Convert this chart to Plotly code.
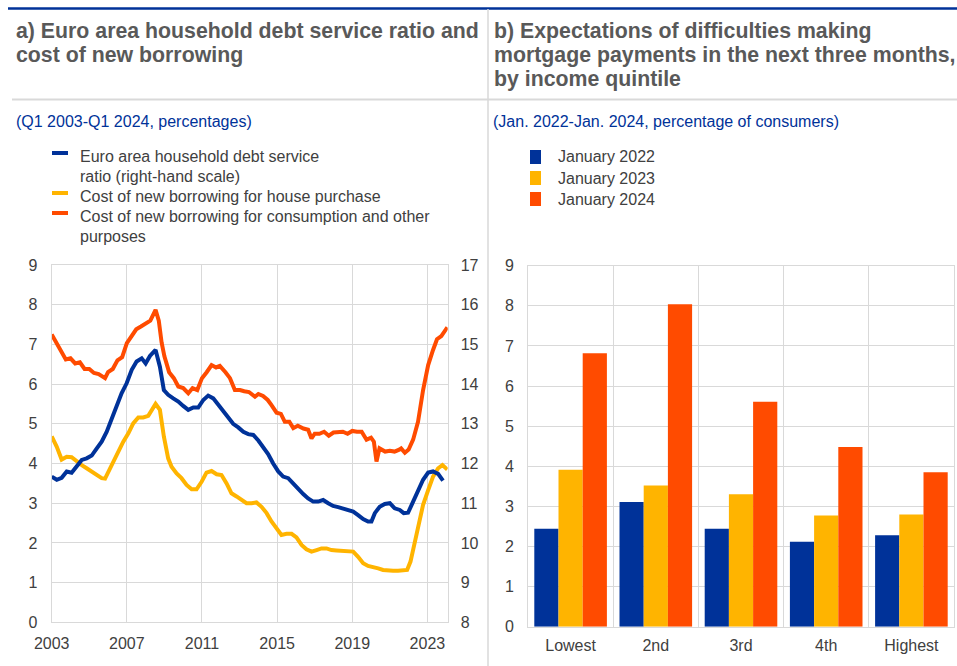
import plotly.graph_objects as go

# ---------------- data: panel a ----------------
dsr_years = [2003.0, 2003.27, 2003.53, 2003.8, 2004.06, 2004.33, 2004.6, 2004.86, 2005.13, 2005.4,
             2005.66, 2005.93, 2006.2, 2006.46, 2006.72, 2006.99, 2007.26, 2007.52, 2007.79, 2008.0,
             2008.23, 2008.53, 2008.76, 2008.97, 2009.2, 2009.47, 2009.74, 2010.0, 2010.27, 2010.54,
             2010.8, 2011.07, 2011.33, 2011.6, 2011.87, 2012.13, 2012.4, 2012.66, 2012.93, 2013.2,
             2013.46, 2013.73, 2014.0, 2014.26, 2014.52, 2014.79, 2015.06, 2015.32, 2015.59, 2015.85,
             2016.12, 2016.39, 2016.65, 2016.92, 2017.18, 2017.45, 2017.72, 2017.98, 2018.25, 2018.51,
             2018.78, 2019.05, 2019.31, 2019.58, 2019.84, 2020.02, 2020.2, 2020.46, 2020.73, 2021.0,
             2021.26, 2021.53, 2021.74, 2021.97, 2022.24, 2022.5, 2022.77, 2023.04, 2023.3, 2023.57,
             2023.83]
dsr_values = [11.67, 11.59, 11.64, 11.80, 11.77, 11.92, 12.09, 12.13, 12.20, 12.38,
              12.55, 12.80, 13.14, 13.47, 13.77, 14.02, 14.36, 14.57, 14.65, 14.52,
              14.71, 14.86, 14.44, 13.85, 13.73, 13.64, 13.56, 13.45, 13.35, 13.41,
              13.41, 13.60, 13.71, 13.64, 13.47, 13.31, 13.14, 13.00, 12.91, 12.80,
              12.74, 12.72, 12.58, 12.42, 12.24, 12.00, 11.80, 11.67, 11.63, 11.50,
              11.35, 11.23, 11.12, 11.04, 11.04, 11.08, 11.00, 10.93, 10.90, 10.87,
              10.83, 10.79, 10.70, 10.60, 10.54, 10.54, 10.75, 10.91, 10.98, 11.00,
              10.87, 10.83, 10.75, 10.76, 11.04, 11.33, 11.59, 11.77, 11.80, 11.74,
              11.57]

house_years = [2003.0, 2003.27, 2003.53, 2003.8, 2004.06, 2004.33, 2004.6, 2004.86, 2005.13, 2005.4,
               2005.66, 2005.84, 2006.02, 2006.28, 2006.55, 2006.81, 2007.08, 2007.34, 2007.61, 2007.87,
               2008.14, 2008.35, 2008.53, 2008.76, 2008.97, 2009.2, 2009.38, 2009.65, 2009.91, 2010.18,
               2010.45, 2010.71, 2010.98, 2011.24, 2011.51, 2011.78, 2012.04, 2012.31, 2012.57, 2012.84,
               2013.11, 2013.37, 2013.64, 2013.9, 2014.17, 2014.44, 2014.7, 2014.97, 2015.23, 2015.5,
               2015.77, 2016.03, 2016.3, 2016.56, 2016.83, 2017.1, 2017.36, 2017.63, 2017.89, 2018.16,
               2018.42, 2018.69, 2019.05, 2019.31, 2019.58, 2019.84, 2020.11, 2020.38, 2020.64, 2020.91,
               2021.17, 2021.44, 2021.71, 2021.92, 2022.1, 2022.33, 2022.56, 2022.77, 2023.04, 2023.3,
               2023.57, 2023.8, 2024.06]
house_values = [4.68, 4.42, 4.10, 4.17, 4.16, 4.05, 3.96, 3.88, 3.80, 3.71,
                3.63, 3.62, 3.80, 4.05, 4.34, 4.55, 4.76, 5.01, 5.16, 5.16,
                5.20, 5.35, 5.50, 5.35, 4.68, 4.13, 3.92, 3.75, 3.63, 3.46,
                3.35, 3.35, 3.54, 3.77, 3.81, 3.73, 3.71, 3.50, 3.25, 3.17,
                3.08, 3.00, 3.00, 3.02, 2.91, 2.75, 2.54, 2.37, 2.20, 2.23,
                2.23, 2.14, 1.95, 1.84, 1.78, 1.82, 1.86, 1.86, 1.82, 1.81,
                1.80, 1.78, 1.78, 1.65, 1.49, 1.42, 1.40, 1.36, 1.32, 1.30,
                1.30, 1.30, 1.30, 1.32, 1.53, 1.99, 2.49, 2.96, 3.33, 3.67,
                3.88, 3.96, 3.85]

cons_years = [2003.0, 2003.25, 2003.5, 2003.75, 2004.0, 2004.25, 2004.5, 2004.75, 2005.0, 2005.25,
              2005.5, 2005.84, 2006.0, 2006.25, 2006.5, 2006.75, 2007.0, 2007.25, 2007.5, 2007.75,
              2008.0, 2008.25, 2008.53, 2008.7, 2008.85, 2009.0, 2009.25, 2009.5, 2009.74, 2010.0,
              2010.27, 2010.5, 2010.75, 2011.0, 2011.25, 2011.51, 2011.75, 2011.95, 2012.25, 2012.49,
              2012.75, 2013.02, 2013.25, 2013.5, 2013.82, 2014.0, 2014.25, 2014.5, 2014.7, 2014.97,
              2015.2, 2015.41, 2015.65, 2015.86, 2016.1, 2016.4, 2016.65, 2016.83, 2017.0, 2017.25,
              2017.5, 2017.75, 2018.0, 2018.25, 2018.5, 2018.75, 2019.0, 2019.25, 2019.5, 2019.76,
              2020.0, 2020.15, 2020.29, 2020.45, 2020.75, 2021.0, 2021.25, 2021.5, 2021.6, 2021.8,
              2022.0, 2022.24, 2022.5, 2022.77, 2023.04, 2023.3, 2023.51, 2023.74, 2024.06]
cons_values = [7.25, 7.05, 6.85, 6.62, 6.65, 6.52, 6.55, 6.38, 6.38, 6.28,
               6.25, 6.15, 6.30, 6.38, 6.60, 6.68, 7.03, 7.20, 7.38, 7.45,
               7.52, 7.60, 7.87, 7.60, 7.05, 6.70, 6.30, 6.15, 5.94, 5.90,
               5.77, 5.90, 5.85, 6.15, 6.30, 6.48, 6.42, 6.46, 6.30, 6.15,
               5.85, 5.85, 5.82, 5.80, 5.68, 5.75, 5.70, 5.60, 5.47, 5.28,
               5.25, 5.05, 5.05, 4.89, 4.95, 4.88, 4.85, 4.63, 4.75, 4.75,
               4.80, 4.70, 4.78, 4.78, 4.80, 4.75, 4.82, 4.80, 4.80, 4.60,
               4.65, 4.55, 4.05, 4.38, 4.30, 4.32, 4.30, 4.35, 4.38, 4.27,
               4.35, 4.60, 5.05, 5.85, 6.48, 6.86, 7.13, 7.21, 7.43]

year_ticks = [2003, 2007, 2011, 2015, 2019, 2023]

# ---------------- data: panel b ----------------
quintiles = ["Lowest", "2nd", "3rd", "4th", "Highest"]
jan2022 = [2.44, 3.11, 2.44, 2.12, 2.28]
jan2023 = [3.91, 3.52, 3.30, 2.77, 2.80]
jan2024 = [6.82, 8.04, 5.61, 4.48, 3.85]

# ---------------- styling ----------------
W, H = 957, 666
BLUE = "#003299"
YELLOW = "#FFB400"
ORANGE = "#FF4B00"
GRID = "#d9d9d9"
TXT = "#404040"
FONT = "Liberation Sans, Arial, sans-serif"


def px(x):
    return x / W


def py(y):
    return 1 - y / H


fig = go.Figure()

fig.add_trace(go.Scatter(x=house_years, y=house_values, mode="lines",
                         line=dict(color=YELLOW, width=4), xaxis="x", yaxis="y",
                         showlegend=False))
fig.add_trace(go.Scatter(x=cons_years, y=cons_values, mode="lines",
                         line=dict(color=ORANGE, width=4), xaxis="x", yaxis="y",
                         showlegend=False))
fig.add_trace(go.Scatter(x=dsr_years, y=dsr_values, mode="lines",
                         line=dict(color=BLUE, width=4), xaxis="x", yaxis="y2",
                         showlegend=False))

for vals, col in [(jan2022, BLUE), (jan2023, YELLOW), (jan2024, ORANGE)]:
    fig.add_trace(go.Bar(x=quintiles, y=vals, marker=dict(color=col, line=dict(width=0)),
                         xaxis="x3", yaxis="y3", showlegend=False))

tickfont = dict(family=FONT, size=16, color=TXT)
axis_common = dict(showgrid=True, gridcolor=GRID, gridwidth=1, showline=True,
                   linecolor=GRID, linewidth=1, mirror=True, zeroline=False,
                   ticks="", tickfont=tickfont, automargin=False)

fig.update_layout(
    template="none",
    width=W, height=H,
    margin=dict(l=0, r=0, t=0, b=0, pad=0),
    paper_bgcolor="white", plot_bgcolor="white",
    font=dict(family=FONT),
    barmode="group", bargap=0.148, bargroupgap=0,
    xaxis=dict(domain=[px(51.7), px(447.7)], range=[2003, 2024.08], tickvals=year_ticks,
               anchor="y", ticklabelstandoff=6, **axis_common),
    yaxis=dict(domain=[py(622.3), py(265)], range=[0, 9], dtick=1, anchor="x",
               ticklabelstandoff=10, **axis_common),
    yaxis2=dict(domain=[py(622.3), py(265)], range=[8, 17], dtick=1, overlaying="y",
                side="right", anchor="x", showgrid=False, zeroline=False, ticks="",
                showline=False, tickfont=tickfont, ticklabelstandoff=12, automargin=False),
    xaxis3=dict(domain=[px(528), px(954)], anchor="y3", tickson="boundaries",
                type="category", ticklabelstandoff=4, **axis_common),
    yaxis3=dict(domain=[py(626.7), py(265.7)], range=[0, 9], dtick=1, anchor="x3",
                ticklabelstandoff=10, **axis_common),
)

shapes = [
    dict(type="line", xref="paper", yref="paper", x0=px(8), x1=px(957), y0=py(8.5), y1=py(8.5),
         line=dict(color=BLUE, width=2.5)),
    dict(type="line", xref="paper", yref="paper", x0=px(12), x1=px(957), y0=py(99.5), y1=py(99.5),
         line=dict(color=GRID, width=2)),
    dict(type="line", xref="paper", yref="paper", x0=px(488), x1=px(488), y0=py(9), y1=py(666),
         line=dict(color=GRID, width=1.5)),
]

annotations = []


def text(x, y, s, size=16, color=TXT, bold=False):
    annotations.append(dict(xref="paper", yref="paper", x=px(x), y=py(y),
                            xanchor="left", yanchor="middle", showarrow=False,
                            text=("<b>%s</b>" % s) if bold else s,
                            font=dict(family=FONT, size=size, color=color)))


TITLE = "#595959"
TS = 21.3
text(14, 31, "a) Euro area household debt service ratio and", TS, TITLE, True)
text(14, 55, "cost of new borrowing", TS, TITLE, True)
text(492, 31, "b) Expectations of difficulties making", TS, TITLE, True)
text(492, 55, "mortgage payments in the next three months,", TS, TITLE, True)
text(492, 79, "by income quintile", TS, TITLE, True)

text(14, 121, "(Q1 2003-Q1 2024, percentages)", 16, BLUE)
text(491, 121, "(Jan. 2022-Jan. 2024, percentage of consumers)", 16, BLUE)

# left legend
left_items = [(157, BLUE, ["Euro area household debt service", "ratio (right-hand scale)"]),
              (197, YELLOW, ["Cost of new borrowing for house purchase"]),
              (217, ORANGE, ["Cost of new borrowing for consumption and other", "purposes"])]
for y0, col, lines in left_items:
    shapes.append(dict(type="rect", xref="paper", yref="paper", x0=px(52), x1=px(68),
                       y0=py(y0 - 2), y1=py(y0 - 6), line=dict(width=0), fillcolor=col))
    for i, ln in enumerate(lines):
        text(78, y0 + 19.5 * i, ln)

# right legend
for y0, col, lab in [(157, BLUE, "January 2022"), (178, YELLOW, "January 2023"),
                     (199, ORANGE, "January 2024")]:
    shapes.append(dict(type="rect", xref="paper", yref="paper", x0=px(530), x1=px(541),
                       y0=py(y0 - 7), y1=py(y0 + 7), line=dict(width=0), fillcolor=col))
    text(556, y0, lab)

fig.update_layout(shapes=shapes, annotations=annotations)

fig.write_html("out.html", config={"displayModeBar": False},
               post_script="document.body.style.margin='0';document.body.style.overflow='hidden';")
